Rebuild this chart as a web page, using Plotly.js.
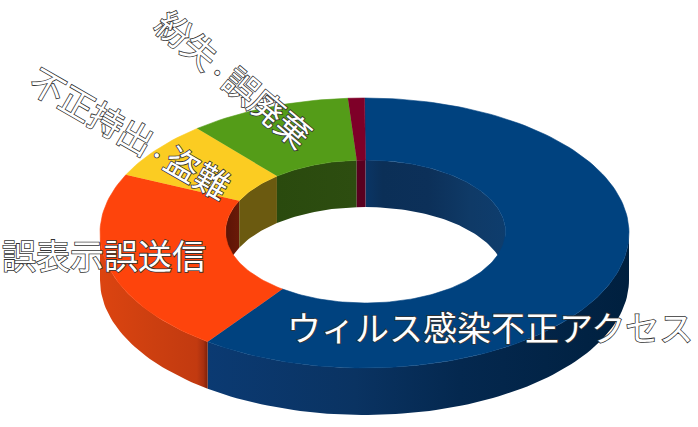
<!DOCTYPE html>
<html><head><meta charset="utf-8">
<script src="https://cdn.plot.ly/plotly-3.0.1.min.js"></script>
<style>
html,body{margin:0;padding:0;background:#fff}
.annotation-text{stroke:#333;stroke-width:1.6px;paint-order:stroke;}
</style></head><body><div id="c" style="width:698px;height:427px"></div>
<script>
// share of each slice (%), clockwise from 12 o'clock
const categories = ["ウィルス感染不正アクセス","誤表示誤送信","不正持出・盗難","紛失・誤廃棄","その他"];
const values = [60.1,22.0,7.0,9.9,1.0];
const topColors = ["#00427f","#fe440c","#fbcc22","#549c18","#7e0028"];
const outerWallStops = [
  [[0,"#0b3a72"],[0.35,"#0a3362"],[0.6,"#04284f"],[1,"#00203f"]],
  [[0,"#dc4410"],[0.5,"#cc3f10"],[0.9,"#c23a10"],[0.96,"#a83010"],[1,"#7c2008"]],
  null,null,null];
const innerWallStops = [
  [[0,"#0a3565"],[0.12,"#0b2f57"],[0.45,"#0c3059"],[0.75,"#0f3a67"],[1,"#0e3d6d"]],
  [[0,"#5c1406"],[1,"#6a1a08"]],
  [[0,"#6b5a10"],[1,"#6b5a10"]],
  [[0,"#2a4a0e"],[1,"#2d4d10"]],
  [[0,"#5a0020"],[1,"#5a0020"]]];

// projection of the ring
const outer={cx:364.5,cy:233,a:264.5,b:135}, inner={cx:365.5,cy:231.5,a:140,b:71.5}, depth=47;
const rad=d=>d*Math.PI/180;
const pt=(e,t,dz=0)=>[e.cx+e.a*Math.sin(rad(t)),e.cy-e.b*Math.cos(rad(t))+dz];
function arc(e,t0,t1,dz=0){const n=Math.max(2,Math.ceil(Math.abs(t1-t0)/1.5)),r=[];
  for(let i=0;i<=n;i++)r.push(pt(e,t0+(t1-t0)*i/n,dz));return r;}
function poly(points,color,stops){
  const t={type:'scatter',mode:'lines',x:points.map(p=>p[0]),y:points.map(p=>p[1]),fill:'toself',
    hoverinfo:'skip',showlegend:false,line:{width:stops?0:0.6,color:color||'rgba(0,0,0,0)'}};
  if(stops){t.fillgradient={type:'horizontal',colorscale:stops};}
  else t.fillcolor=color;
  return t;
}
const total=values.reduce((a,b)=>a+b,0);let acc=0;
const spans=values.map(v=>{const s=[acc/total*360,(acc+v)/total*360];acc+=v;return s;});
const traces=[];
spans.forEach((s,i)=>{const t0=Math.max(s[0],90),t1=Math.min(s[1],270);if(t1<=t0)return;
  traces.push(poly([...arc(outer,t0,t1),...arc(outer,t1,t0,depth)],null,outerWallStops[i]));});
spans.forEach((s,i)=>{[[s[0],Math.min(s[1],90)],[Math.max(s[0],270),s[1]]].forEach(([t0,t1])=>{
  if(t1<=t0)return;
  traces.push(poly([...arc(inner,t0,t1),...arc(inner,t1,t0,depth)],null,innerWallStops[i]));});});
spans.forEach((s,i)=>{traces.push(poly([...arc(outer,s[0],s[1]),...arc(inner,s[1],s[0])],topColors[i]));});

const labelFont={family:'"Noto Sans CJK JP",sans-serif',size:34,color:'#fff'};
const labelPlace=[[489.5,326,0],[104,254,0],[131,132,30],[235,78,40]];
const withDot=s=>s.replace('・','<span style="font-size:20px">・</span>');
const annotations=labelPlace.map((p,i)=>({x:p[0],y:p[1],text:withDot(categories[i]),textangle:p[2],showarrow:false,
  xanchor:'center',yanchor:'middle',font:labelFont}));
Plotly.newPlot('c',traces,{width:698,height:427,margin:{l:0,r:0,t:0,b:0},paper_bgcolor:'#fff',plot_bgcolor:'#fff',
  showlegend:false,annotations,
  xaxis:{range:[0,698],visible:false,fixedrange:true},yaxis:{range:[427,0],visible:false,fixedrange:true}},
  {displayModeBar:false,staticPlot:true});
</script></body></html>
